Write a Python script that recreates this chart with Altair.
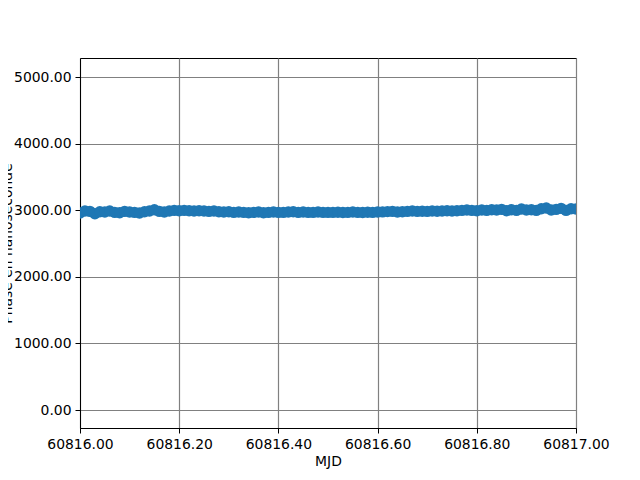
import altair as alt
import pandas as pd

mjd = [
    60816.00, 60816.01, 60816.02, 60816.03, 60816.04, 60816.05, 60816.06, 60816.07, 60816.08, 60816.09,
    60816.10, 60816.11, 60816.12, 60816.13, 60816.14, 60816.15, 60816.16, 60816.17, 60816.18, 60816.19,
    60816.20, 60816.21, 60816.22, 60816.23, 60816.24, 60816.25, 60816.26, 60816.27, 60816.28, 60816.29,
    60816.30, 60816.31, 60816.32, 60816.33, 60816.34, 60816.35, 60816.36, 60816.37, 60816.38, 60816.39,
    60816.40, 60816.41, 60816.42, 60816.43, 60816.44, 60816.45, 60816.46, 60816.47, 60816.48, 60816.49,
    60816.50, 60816.51, 60816.52, 60816.53, 60816.54, 60816.55, 60816.56, 60816.57, 60816.58, 60816.59,
    60816.60, 60816.61, 60816.62, 60816.63, 60816.64, 60816.65, 60816.66, 60816.67, 60816.68, 60816.69,
    60816.70, 60816.71, 60816.72, 60816.73, 60816.74, 60816.75, 60816.76, 60816.77, 60816.78, 60816.79,
    60816.80, 60816.81, 60816.82, 60816.83, 60816.84, 60816.85, 60816.86, 60816.87, 60816.88, 60816.89,
    60816.90, 60816.91, 60816.92, 60816.93, 60816.94, 60816.95, 60816.96, 60816.97, 60816.98, 60816.99,
    60817.00,
]

phase = [
    2960, 2990, 2985, 2950, 2980, 2975, 2990, 2970, 2965, 2985,
    2975, 2970, 2960, 2980, 2990, 3010, 2985, 2975, 2990, 3000,
    2995, 3000, 2995, 2990, 2995, 2990, 2985, 2990, 2980, 2975,
    2980, 2970, 2975, 2970, 2965, 2970, 2975, 2965, 2970, 2975,
    2970, 2970, 2975, 2980, 2970, 2975, 2970, 2970, 2975, 2970,
    2970, 2970, 2972, 2968, 2970, 2975, 2970, 2968, 2972, 2970,
    2975, 2978, 2982, 2985, 2975, 2980, 2985, 2990, 2985, 2988,
    2985, 2990, 2988, 2992, 2995, 2990, 2995, 3000, 3005, 3000,
    2995, 3005, 3000, 3010, 3005, 3015, 2995, 3010, 3000, 3020,
    3005, 3010, 3000, 3025, 3035, 3005, 3015, 3030, 3000, 3025,
    3020,
]

x_ticks = [60816.0, 60816.2, 60816.4, 60816.6, 60816.8, 60817.0]
y_ticks = [0, 1000, 2000, 3000, 4000, 5000]

df = pd.DataFrame({"MJD": mjd, "phase": phase})

chart = (
    alt.Chart(df)
    .mark_circle(size=130, opacity=1, color="#1f77b4", clip=True)
    .encode(
        x=alt.X(
            "MJD:Q",
            scale=alt.Scale(domain=[60816.0, 60817.0], nice=False, zero=False),
            axis=alt.Axis(values=x_ticks, format=".2f", title="MJD", titlePadding=4),
        ),
        y=alt.Y(
            "phase:Q",
            scale=alt.Scale(domain=[-270, 5290], nice=False, zero=False),
            axis=alt.Axis(
                values=y_ticks,
                format=".2f",
                title="Phase en nanoseconde",
                titleX=-66,
                titleY=185,
            ),
        ),
    )
    .properties(
        width=496,
        height=370,
        autosize="none",
        padding={"left": 72, "top": 50, "right": 56, "bottom": 44},
    )
    .configure_view(stroke="black", strokeWidth=1)
    .configure_axis(
        grid=True,
        gridColor="#808080",
        gridOpacity=1,
        gridWidth=1.2,
        domainColor="black",
        domainWidth=1,
        tickColor="black",
        tickSize=5,
        tickWidth=1,
        labelPadding=4,
        labelColor="black",
        labelFont="DejaVu Sans",
        labelFontSize=13.9,
        titleFont="DejaVu Sans",
        titleFontSize=13.9,
        titleFontWeight="normal",
        titleColor="black",
        labelFlush=False,
    )
)

chart.save("out.html", embed_options={"renderer": "svg", "actions": False})
